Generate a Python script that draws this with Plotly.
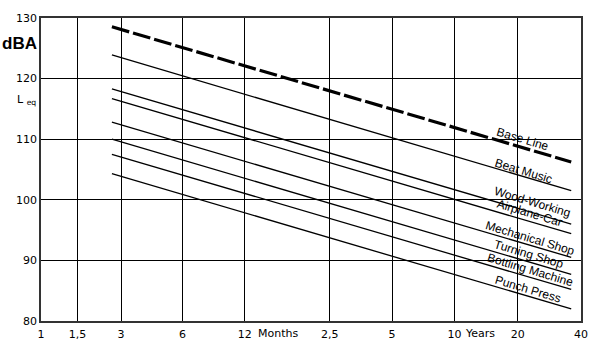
import math
import plotly.graph_objects as go

# ---- data ----
TICK_POS = [0, 0.587, 1.286, 2.27, 3.27, 4.635, 5.635, 6.635, 7.65, 8.667]
TICK_TEXT = ["1", "1,5", "3", "6", "12", "2,5", "5", "10", "20", "40"]
Y_TICKS = [80, 90, 100, 110, 120, 130]

SERIES = ["Base Line", "Beat Music", "Wood-Working", "Airplane-Car",
          "Mechanical Shop", "Turning Shop", "Bottling Machine", "Punch Press"]
X_START = 1.138
X_END = 8.51
Y_START = [128.55, 123.9, 118.3, 116.7, 112.8, 110.0, 107.5, 104.3]
Y_END = [106.25, 101.5, 96.0, 94.4, 90.5, 87.7, 85.2, 82.0]

# ---- layout geometry / label placement (styling) ----
W, H = 600, 353
ML, MR, MT, MB = 41, 13, 13, 29
X_RANGE = [0, 8.667]
Y_RANGE = [80, 130]
LABEL_XPX = [528, 529, 538, 535, 535, 534, 536, 533]
LABEL_DY = [9, 6, 11, 8.5, 7, 8, 8, 7]

px_x = (W - ML - MR) / (X_RANGE[1] - X_RANGE[0])
px_y = (H - MT - MB) / (Y_RANGE[1] - Y_RANGE[0])

fig = go.Figure()
for i, name in enumerate(SERIES):
    base = i == 0
    fig.add_trace(go.Scatter(
        x=[X_START, X_END], y=[Y_START[i], Y_END[i]], mode="lines", name=name,
        line=dict(color="black", width=3.2 if base else 1.3,
                  dash="18px,4px" if base else "solid"),
        showlegend=False, hoverinfo="skip"))

annotations = []
for i, name in enumerate(SERIES):
    lx = (LABEL_XPX[i] - ML) / px_x
    slope = (Y_END[i] - Y_START[i]) / (X_END - X_START)
    ang = math.degrees(math.atan(-slope * px_y / px_x))
    yl = Y_START[i] + slope * (lx - X_START)
    annotations.append(dict(
        x=lx, y=yl, xref="x", yref="y", text=name, showarrow=False,
        textangle=ang, yshift=LABEL_DY[i], xanchor="center", yanchor="middle",
        font=dict(family="Liberation Sans, Arial", size=12, color="black")))

annotations += [
    dict(x=3.27, y=0, xref="x", yref="paper", text="Months", showarrow=False,
         xanchor="left", yanchor="middle", xshift=11, yshift=-12,
         font=dict(family="DejaVu Sans", size=11, color="black")),
    dict(x=6.635, y=0, xref="x", yref="paper", text="Years", showarrow=False,
         xanchor="left", yanchor="middle", xshift=9, yshift=-12,
         font=dict(family="DejaVu Sans", size=11, color="black")),
    dict(x=(19.5 - ML) / (W - ML - MR), y=(H - MB - 39) / (H - MT - MB),
         xref="paper", yref="paper", text="<b>dBA</b>", showarrow=False,
         xanchor="center", yanchor="middle",
         font=dict(family="Liberation Sans, Arial", size=17, color="black")),
    dict(x=(15 - ML) / (W - ML - MR), y=(H - MB - 97) / (H - MT - MB),
         xref="paper", yref="paper", text="L <sub>eq</sub>", showarrow=False,
         xanchor="left", yanchor="middle",
         font=dict(family="DejaVu Sans", size=11, color="black")),
]

axis_common = dict(showgrid=True, gridcolor="black", gridwidth=1.3,
                   showline=True, linecolor="#333", linewidth=1.6, mirror=True,
                   zeroline=False, ticks="",
                   tickfont=dict(family="DejaVu Sans", size=11, color="black"))

fig.update_layout(
    width=W, height=H,
    margin=dict(l=ML, r=MR, t=MT, b=MB, pad=0),
    paper_bgcolor="white", plot_bgcolor="white",
    xaxis=dict(range=X_RANGE, tickmode="array", tickvals=TICK_POS,
               ticktext=TICK_TEXT, ticklabelstandoff=2, **axis_common),
    yaxis=dict(range=Y_RANGE, tickmode="array", tickvals=Y_TICKS,
               ticklabelstandoff=0, **axis_common),
    annotations=annotations,
)

fig.write_html("out.html")
